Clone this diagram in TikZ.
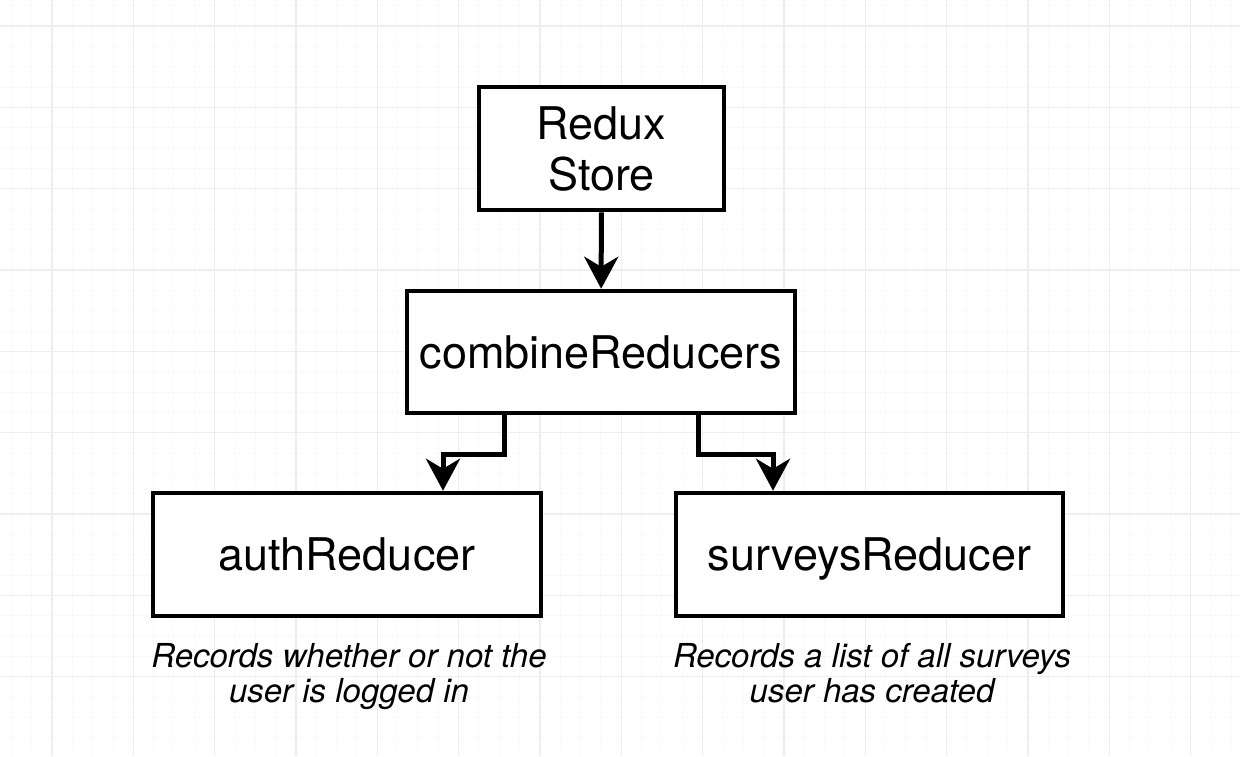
\documentclass[tikz,border=0pt]{standalone}
\usepackage{fontspec}
\setmainfont{TeX Gyre Heros}
\usetikzlibrary{arrows.meta,positioning}

\begin{document}
\begin{tikzpicture}[x=1pt, y=-1pt, line join=miter,
                    box node/.style={rectangle,draw,line width=4.5pt,fill=white,inner sep=0pt,
                      align=center,text depth=0pt,font=\fontsize{45}{51}\selectfont},
                    note node/.style={anchor=north,inner sep=0pt,align=center,
                      font=\itshape\fontsize{33}{35}\selectfont},
                    link/.style={line width=5pt,-{Stealth[length=32pt,width=34pt,inset=10pt]}},
                    minor line/.style={draw=gray!5,line width=1pt},
                    major line/.style={draw=gray!13,line width=1.5pt}]

  \fill[white] (0,0) rectangle (1240,756);
  \useasboundingbox (0,0) rectangle (1240,756);
  \foreach \k in {-3,...,60} {
    \draw[minor line] ({52+\k*20.333},0) -- ++(0,756);
  }
  \foreach \k in {-2,...,37} {
    \draw[minor line] (0,{26+\k*20.333}) -- ++(1240,0);
  }
  \foreach \k in {-1,...,15} {
    \draw[major line] ({52+\k*81.333},0) -- ++(0,756);
  }
  \foreach \k in {0,...,9} {
    \draw[major line] (0,{26+\k*81.333}) -- ++(1240,0);
  }

  \node[box node, minimum width=245pt, minimum height=123pt] (store) at (601.5,148.5) {Redux\\Store};
  \node[box node, minimum width=388pt, minimum height=122pt] (combine) at (601,352) {combineReducers};
  \node[box node, minimum width=388pt, minimum height=123pt] (auth) at (347,554.5) {authReducer};
  \node[box node, minimum width=387pt, minimum height=123pt] (surveys) at (869.5,554.5) {surveysReducer};

  \node[note node] (authnote) at (349,643) {Records whether or not the\\user is logged in};
  \node[note node] (surveysnote) at (872,643) {Records a list of all surveys\\user has created};

  \draw[link] (store) -- (combine);
  \draw[link] ([xshift=-97pt]combine.south) -- ++(0,39) -| ([xshift=96pt]auth.north);
  \draw[link] ([xshift=97pt]combine.south) -- ++(0,39) -| ([xshift=-96.5pt]surveys.north);
\end{tikzpicture}
\end{document}
